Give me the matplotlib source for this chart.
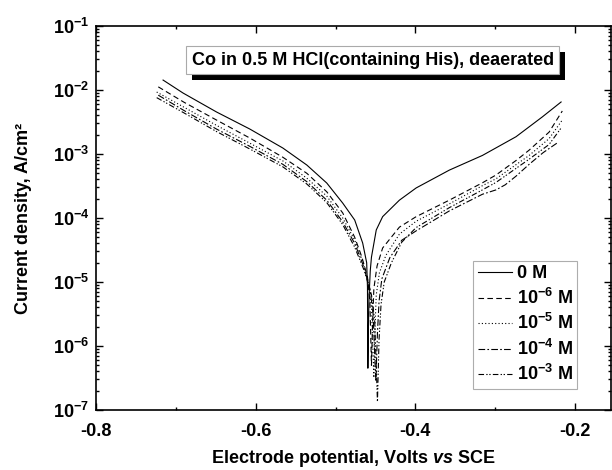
import matplotlib
matplotlib.use("Agg")
import matplotlib.pyplot as plt
import matplotlib.patheffects as pe
from matplotlib.ticker import FixedLocator, MultipleLocator, LogLocator, NullFormatter
import numpy as np

plt.rcParams['font.family'] = ['Liberation Sans', 'DejaVu Sans']
plt.rcParams['font.weight'] = 'bold'
plt.rcParams['axes.unicode_minus'] = False
plt.rcParams['mathtext.fontset'] = 'custom'
plt.rcParams['mathtext.rm'] = 'Liberation Sans:bold'
plt.rcParams['mathtext.bf'] = 'Liberation Sans:bold'
plt.rcParams['mathtext.it'] = 'Liberation Sans:italic:bold'

# ---- data (potential in V vs SCE, current density in A/cm2) ----
E_0M = [-0.716, -0.691, -0.649, -0.6075, -0.566, -0.536, -0.511, -0.491, -0.476, -0.466,
        -0.461, -0.460, -0.4595, -0.4588, -0.458, -0.4565, -0.455, -0.449, -0.441, -0.420,
        -0.399, -0.3575, -0.316, -0.274, -0.241, -0.2175]
i_0M = [1.43e-2, 8.97e-3, 4.53e-3, 2.46e-3, 1.24e-3, 6.73e-4, 3.52e-4, 1.71e-4, 9.3e-5, 4.06e-5,
        2.0e-5, 8.3e-6, 4.5e-7, 2.0e-6, 6.0e-6, 1.5e-5, 2.45e-5, 6.5e-5, 1.05e-4, 1.9e-4,
        2.95e-4, 5.6e-4, 9.5e-4, 1.86e-3, 3.8e-3, 6.5e-3]

E_1e6 = [-0.722, -0.69, -0.649, -0.6075, -0.566, -0.536, -0.511, -0.491, -0.476, -0.467,
         -0.460, -0.457, -0.455, -0.4535, -0.452, -0.448, -0.441, -0.420, -0.399, -0.3575,
         -0.316, -0.299, -0.274, -0.2575, -0.2325, -0.216]
i_1e6 = [1.12e-2, 6.46e-3, 3.39e-3, 1.78e-3, 8.9e-4, 5.0e-4, 2.57e-4, 1.2e-4, 5.0e-5, 2.45e-5,
         1.2e-5, 5.0e-6, 5.0e-7, 2.5e-6, 7.9e-6, 1.78e-5, 3.4e-5, 7.2e-5, 1.05e-4, 1.9e-4,
         3.55e-4, 4.7e-4, 7.9e-4, 1.15e-3, 2.2e-3, 4.7e-3]

E_1e5 = [-0.724, -0.69, -0.649, -0.6075, -0.566, -0.536, -0.511, -0.491, -0.476, -0.466,
         -0.459, -0.455, -0.452, -0.4505, -0.449, -0.445, -0.437, -0.420, -0.399, -0.3575,
         -0.316, -0.299, -0.2575, -0.2325, -0.216]
i_1e5 = [9.3e-3, 5.4e-3, 2.8e-3, 1.48e-3, 7.8e-4, 4.2e-4, 2.2e-4, 1.0e-4, 4.5e-5, 2.1e-5,
         1.0e-5, 4.0e-6, 3.2e-7, 2.0e-6, 6.3e-6, 1.4e-5, 2.6e-5, 5.6e-5, 8.9e-5, 1.66e-4,
         3.2e-4, 4.1e-4, 9.5e-4, 1.74e-3, 3.4e-3]

E_1e4 = [-0.722, -0.69, -0.649, -0.6075, -0.566, -0.536, -0.511, -0.491, -0.476, -0.465,
         -0.457, -0.453, -0.4495, -0.4475, -0.4455, -0.442, -0.432, -0.417, -0.399, -0.3575,
         -0.316, -0.299, -0.2875, -0.274, -0.2575, -0.240, -0.222]
i_1e4 = [8.3e-3, 4.8e-3, 2.45e-3, 1.32e-3, 6.9e-4, 3.7e-4, 1.9e-4, 8.7e-5, 4.0e-5, 1.78e-5,
         7.9e-6, 3.2e-6, 2.8e-7, 1.6e-6, 5.0e-6, 1.12e-5, 2.4e-5, 4.5e-5, 6.3e-5, 1.29e-4,
         2.35e-4, 2.75e-4, 3.3e-4, 4.5e-4, 6.9e-4, 1.05e-3, 1.5e-3]

E_1e3 = [-0.724, -0.69, -0.649, -0.6075, -0.566, -0.536, -0.511, -0.491, -0.476, -0.464,
         -0.455, -0.451, -0.4475, -0.4455, -0.443, -0.439, -0.430, -0.417, -0.399, -0.3575,
         -0.316, -0.299, -0.2575, -0.2325, -0.218]
i_1e3 = [7.6e-3, 4.4e-3, 2.24e-3, 1.2e-3, 6.3e-4, 3.4e-4, 1.74e-4, 7.9e-5, 3.5e-5, 1.5e-5,
         6.3e-6, 2.5e-6, 1.35e-7, 1.26e-6, 4.5e-6, 1.0e-5, 2.0e-5, 4.2e-5, 7.1e-5, 1.45e-4,
         2.75e-4, 3.6e-4, 8.3e-4, 1.41e-3, 2.5e-3]

series_labels = ['0 M', r'$\mathbf{10^{-6}}$ M', r'$\mathbf{10^{-5}}$ M',
                 r'$\mathbf{10^{-4}}$ M', r'$\mathbf{10^{-3}}$ M']
x_ticks = [-0.8, -0.6, -0.4, -0.2]
x_ticklabels = ['-0.8', '-0.6', '-0.4', '-0.2']
y_ticks = [1e-7, 1e-6, 1e-5, 1e-4, 1e-3, 1e-2, 1e-1]
y_ticklabels = [r'$\mathbf{10^{-7}}$', r'$\mathbf{10^{-6}}$', r'$\mathbf{10^{-5}}$',
                r'$\mathbf{10^{-4}}$', r'$\mathbf{10^{-3}}$', r'$\mathbf{10^{-2}}$',
                r'$\mathbf{10^{-1}}$']
title_text = 'Co in 0.5 M HCl(containing His), deaerated'

fig = plt.figure(figsize=(6.12, 4.70), dpi=100)
ax = fig.add_axes([96/612, 60/470, 515/612, 384/470])

styles = [
    dict(linestyle='-'),
    dict(linestyle=(0, (5, 3))),
    dict(linestyle=(0, (1, 2))),
    dict(linestyle=(0, (6, 2, 1.5, 2))),
    dict(linestyle=(0, (5, 2, 1.2, 1.5, 1.2, 2))),
]
data = [(E_0M, i_0M), (E_1e6, i_1e6), (E_1e5, i_1e5), (E_1e4, i_1e4), (E_1e3, i_1e3)]
for (E, i), st, lab in zip(data, styles, series_labels):
    ax.plot(E, i, color='black', lw=0.8, label=lab, **st)

ax.set_yscale('log')
ax.set_xlim(-0.8, -0.155)
ax.set_ylim(1e-7, 1e-1)

ax.xaxis.set_major_locator(FixedLocator(x_ticks))
ax.set_xticklabels(x_ticklabels)
ax.xaxis.set_minor_locator(MultipleLocator(0.1))
ax.yaxis.set_major_locator(FixedLocator(y_ticks))
ax.set_yticklabels(y_ticklabels)
ax.yaxis.set_minor_locator(LogLocator(base=10, subs=np.arange(2, 10), numticks=20))
ax.yaxis.set_minor_formatter(NullFormatter())

ax.tick_params(which='both', direction='in', top=True, right=True, width=1.0)
ax.tick_params(which='major', length=5, labelsize=13, pad=5)
ax.tick_params(which='minor', length=2.5)
ax.tick_params(axis='x', which='major', pad=9)
for s in ax.spines.values():
    s.set_linewidth(1.2)

ax.set_xlabel(r'Electrode potential, Volts $\mathit{vs}$ SCE', fontsize=13, fontweight='bold', labelpad=6)
ax.set_ylabel('Current density, A/cm²', fontsize=13, fontweight='bold', labelpad=15)

t = ax.text(0.5375, 0.911, title_text, transform=ax.transAxes, ha='center', va='center',
            fontsize=13, fontweight='bold',
            bbox=dict(boxstyle='square,pad=0.3', fc='white', ec='#aaaaaa', lw=0.8))
t.get_bbox_patch().set_path_effects([pe.SimplePatchShadow(offset=(3.8, -4.3), shadow_rgbFace='black', alpha=1.0),
                                     pe.Normal()])

leg = ax.legend(loc='lower right', bbox_to_anchor=(0.934, 0.0547), fontsize=13,
                frameon=True, fancybox=False, handlelength=1.9, handletextpad=0.25,
                labelspacing=0.3, borderpad=0.25, borderaxespad=0)
leg.get_frame().set_edgecolor('#999999')
leg.get_frame().set_linewidth(0.8)
for txt in leg.get_texts():
    txt.set_fontweight('bold')

fig.savefig('out.png', dpi=100)
